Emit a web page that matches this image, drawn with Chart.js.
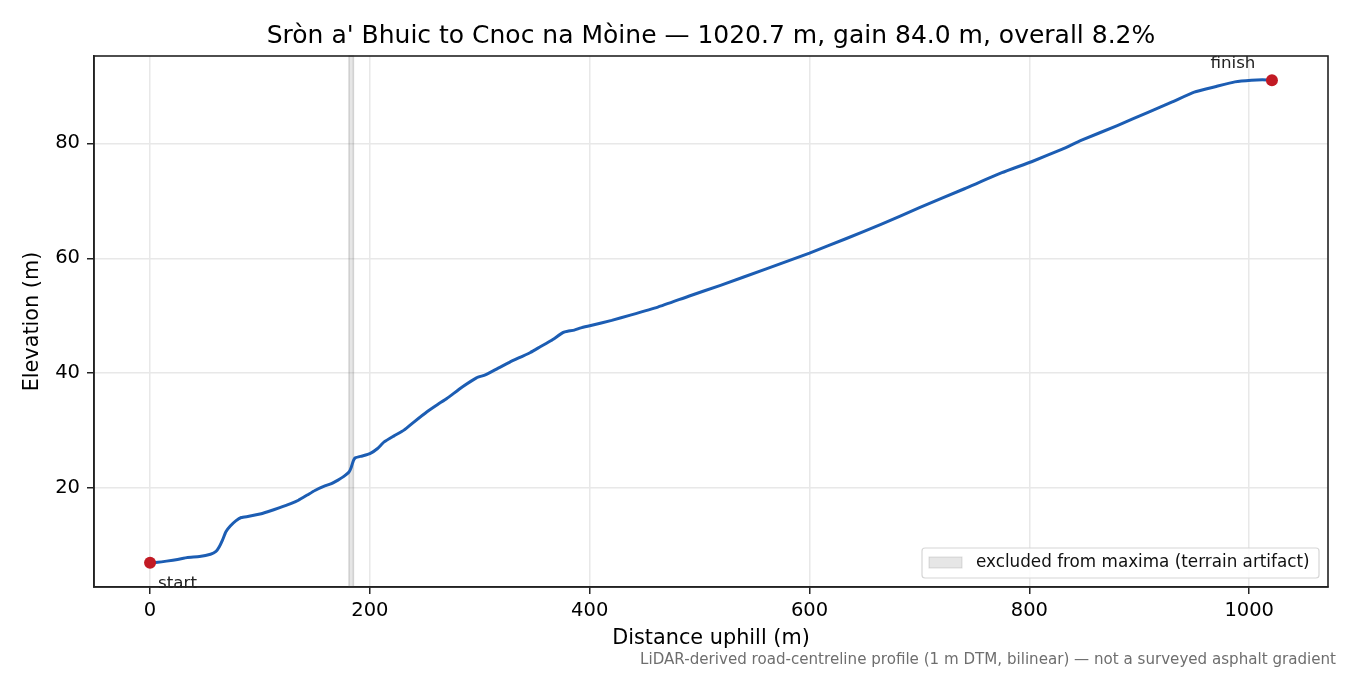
<!DOCTYPE html>
<html>
<head>
<meta charset="utf-8">
<script src="https://cdn.jsdelivr.net/npm/chart.js@4.4.1/dist/chart.umd.min.js"></script>
<style>
html,body{margin:0;padding:0;background:#fff;}
canvas{display:block;}
</style>
</head>
<body>
<canvas id="c" width="1350" height="675"></canvas>
<script>
// ---- data ----
const distances = [0, 7, 15, 25, 34, 45, 55, 60, 63, 66, 69, 73, 78, 83, 90, 100, 107, 118, 128, 135, 143, 150, 158, 165, 171, 176, 181, 183, 185, 187, 193, 200, 207, 213, 222, 231, 240, 252, 262, 270, 284, 297, 305, 316, 327, 337, 346, 355, 365, 376, 380, 386, 392, 401, 420, 437, 462, 490, 519, 560, 600, 633, 665, 700, 741, 775, 802, 830, 847, 880, 908, 930, 950, 970, 987, 1002, 1012, 1020.7];
const elevations = [7.0, 7.1, 7.3, 7.6, 7.95, 8.1, 8.5, 9.0, 9.8, 11.0, 12.4, 13.4, 14.3, 14.9, 15.1, 15.5, 15.9, 16.6, 17.3, 17.9, 18.8, 19.6, 20.3, 20.8, 21.4, 22.0, 22.8, 23.6, 24.8, 25.3, 25.6, 26.0, 26.9, 28.05, 29.1, 30.1, 31.5, 33.3, 34.6, 35.6, 37.6, 39.2, 39.7, 40.8, 41.9, 42.8, 43.6, 44.6, 45.7, 47.1, 47.3, 47.5, 47.9, 48.3, 49.2, 50.1, 51.5, 53.4, 55.3, 58.1, 60.9, 63.4, 65.9, 68.8, 72.1, 74.9, 76.8, 79.0, 80.5, 83.1, 85.4, 87.2, 88.9, 89.9, 90.7, 91.0, 91.05, 91.0];
const endpointNames = ["start", "finish"];
const endpointDistances = [0, 1020.7];
const endpointElevations = [7.0, 91.0];
const excludedRange = [181, 185];
const xTicks = [0, 200, 400, 600, 800, 1000];
const yTicks = [20, 40, 60, 80];
const xLimits = [-51.0, 1071.7];
const yLimits = [2.8, 95.2];
const titleText = "Sròn a' Bhuic to Cnoc na Mòine — 1020.7 m, gain 84.0 m, overall 8.2%";
const xLabel = "Distance uphill (m)";
const yLabel = "Elevation (m)";
const legendText = "excluded from maxima (terrain artifact)";
const footnote = "LiDAR-derived road-centreline profile (1 m DTM, bilinear) — not a surveyed asphalt gradient";

const FONT = "'DejaVu Sans', sans-serif";
const profile = distances.map((d, i) => ({x: d, y: elevations[i]}));
const endpoints = endpointDistances.map((d, i) => ({x: d, y: endpointElevations[i]}));

const overlay = {
  id: 'overlay',
  beforeDatasetsDraw(chart) {
    const {ctx, chartArea: a, scales: {x}} = chart;
    const x0 = x.getPixelForValue(excludedRange[0]);
    const x1 = x.getPixelForValue(excludedRange[1]);
    ctx.save();
    ctx.fillStyle = 'rgba(128,128,128,0.2)';
    ctx.fillRect(x0, a.top, x1 - x0, a.bottom - a.top);
    ctx.strokeStyle = 'rgba(128,128,128,0.3)';
    ctx.lineWidth = 1.5;
    ctx.strokeRect(x0, a.top, x1 - x0, a.bottom - a.top);
    ctx.restore();
  },
  afterDraw(chart) {
    const {ctx, chartArea: a, scales: {x, y}} = chart;
    ctx.save();
    // frame
    ctx.strokeStyle = '#222';
    ctx.lineWidth = 1.6;
    ctx.strokeRect(a.left, a.top, a.right - a.left, a.bottom - a.top);
    // title
    ctx.fillStyle = '#000';
    ctx.font = '25px ' + FONT;
    ctx.textAlign = 'center';
    ctx.textBaseline = 'middle';
    ctx.fillText(titleText, (a.left + a.right) / 2, 36);
    // axis labels
    ctx.font = '20.8px ' + FONT;
    ctx.fillText(xLabel, (a.left + a.right) / 2, 639);
    ctx.save();
    ctx.translate(33, (a.top + a.bottom) / 2);
    ctx.rotate(-Math.PI / 2);
    ctx.fillText(yLabel, 0, 0);
    ctx.restore();
    // endpoint labels
    ctx.font = '16.7px ' + FONT;
    ctx.fillStyle = '#222';
    const sx = x.getPixelForValue(endpointDistances[0]);
    const sy = y.getPixelForValue(endpointElevations[0]);
    ctx.textAlign = 'left';
    ctx.textBaseline = 'alphabetic';
    ctx.fillText(endpointNames[0], sx + 8, sy + 25);
    const fx = x.getPixelForValue(endpointDistances[1]);
    const fy = y.getPixelForValue(endpointElevations[1]);
    ctx.textAlign = 'center';
    ctx.fillText(endpointNames[1], fx - 39, fy - 12);
    // legend
    const lx = 922, ly = 548, lw = 397, lh = 30;
    ctx.beginPath();
    ctx.roundRect(lx, ly, lw, lh, 3);
    ctx.fillStyle = 'rgba(255,255,255,0.85)';
    ctx.fill();
    ctx.strokeStyle = '#d6d6d6';
    ctx.lineWidth = 1.2;
    ctx.stroke();
    ctx.fillStyle = 'rgba(128,128,128,0.2)';
    ctx.fillRect(929, 557, 33, 11);
    ctx.strokeStyle = 'rgba(128,128,128,0.25)';
    ctx.lineWidth = 1;
    ctx.strokeRect(929, 557, 33, 11);
    ctx.fillStyle = '#111';
    ctx.font = '16.8px ' + FONT;
    ctx.textAlign = 'left';
    ctx.textBaseline = 'middle';
    ctx.fillText(legendText, 976, 563);
    // footnote
    ctx.fillStyle = '#6e6e6e';
    ctx.font = '15.1px ' + FONT;
    ctx.textAlign = 'right';
    ctx.fillText(footnote, 1336, 660);
    ctx.restore();
  }
};

new Chart(document.getElementById('c'), {
  type: 'line',
  data: {
    datasets: [
      {
        data: profile,
        borderColor: '#1c5db3',
        borderWidth: 3,
        pointRadius: 0,
        tension: 0.15,
        fill: false,
        order: 2
      },
      {
        data: endpoints,
        showLine: false,
        pointRadius: 6,
        pointBackgroundColor: '#c21a24',
        pointBorderColor: '#c21a24',
        pointBorderWidth: 0,
        order: 1
      }
    ]
  },
  options: {
    responsive: false,
    animation: false,
    devicePixelRatio: 1,
    layout: {padding: {left: 0, right: 22, top: 56, bottom: 0}},
    plugins: {legend: {display: false}, title: {display: false}, tooltip: {enabled: false}},
    scales: {
      x: {
        type: 'linear',
        min: xLimits[0],
        max: xLimits[1],
        afterBuildTicks(s) { s.ticks = xTicks.map(v => ({value: v})); },
        afterFit(s) { s.height = 88; },
        grid: {color: '#e8e8e8', lineWidth: 1.5, tickColor: '#222', tickLength: 7, tickWidth: 1.5, drawTicks: true},
        border: {display: true, color: '#222', width: 1.6},
        ticks: {color: '#000', font: {family: FONT, size: 19.5}, padding: 5, maxRotation: 0, callback: v => String(v)}
      },
      y: {
        type: 'linear',
        min: yLimits[0],
        max: yLimits[1],
        afterBuildTicks(s) { s.ticks = yTicks.map(v => ({value: v})); },
        afterFit(s) { s.width = 94; },
        grid: {color: '#e8e8e8', lineWidth: 1.5, tickColor: '#222', tickLength: 7, tickWidth: 1.5, drawTicks: true},
        border: {display: true, color: '#222', width: 1.6},
        ticks: {color: '#000', font: {family: FONT, size: 19.5}, padding: 7, callback: v => String(v)}
      }
    }
  },
  plugins: [overlay]
});
</script>
</body>
</html>
